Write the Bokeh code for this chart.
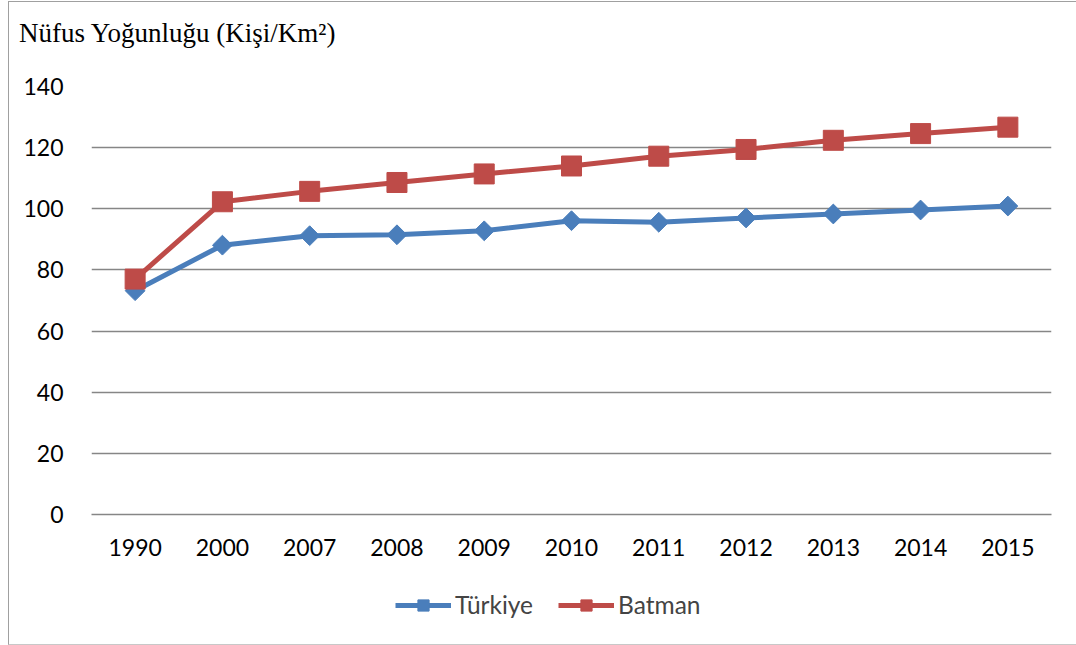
import numpy as np
from bokeh.plotting import figure
from bokeh.layouts import column
from bokeh.models import FactorRange, Range1d, FixedTicker, Legend, LegendItem, Div
from bokeh.embed import file_html
from bokeh.resources import INLINE

years = ["1990", "2000", "2007", "2008", "2009", "2010", "2011", "2012", "2013", "2014", "2015"]
turkiye = [73.2, 88.1, 91.2, 91.5, 92.8, 96.1, 95.6, 97.0, 98.3, 99.6, 100.9]
batman = [77.0, 102.3, 105.7, 108.6, 111.4, 114.0, 117.2, 119.4, 122.4, 124.6, 126.7]
y_ticks = [0, 20, 40, 60, 80, 100, 120, 140]
title_text = "Nüfus Yoğunluğu (Kişi/Km²)"
series_names = ["Türkiye", "Batman"]

BLUE = "#4A7EBB"
RED = "#BE4B48"
GRID = "#868686"
FONT = "Lato"
W = 1067

# ---- title ----
title_div = Div(
    text=('<div style="position:absolute; left:10px; top:18px; white-space:nowrap; '
          'font-family:\'Liberation Serif\'; font-size:27px; line-height:1; color:#000000;">'
          + title_text + '</div>'),
    width=W, height=64, margin=0, styles={"background-color": "white"})

# ---- main chart ----
p = figure(x_range=FactorRange(*years, range_padding=0), y_range=Range1d(0, 140),
           width=W, height=498,
           min_border_left=82, min_border_right=25, min_border_top=20, min_border_bottom=50,
           output_backend="svg", toolbar_location=None)
p.outline_line_color = None
p.background_fill_color = "white"
p.border_fill_color = "white"

p.xgrid.grid_line_color = None
p.ygrid.grid_line_color = GRID
p.ygrid.grid_line_width = 1.5
p.yaxis.ticker = FixedTicker(ticks=y_ticks)

for ax in (p.xaxis[0], p.yaxis[0]):
    ax.axis_line_color = None
    ax.major_tick_line_color = None
    ax.minor_tick_line_color = None
    ax.major_label_text_font = FONT
    ax.major_label_text_font_size = "23px"
    ax.major_label_text_color = "#000000"
p.xaxis.axis_line_color = GRID
p.xaxis.axis_line_width = 1.5
p.yaxis.major_label_standoff = 22
p.xaxis.major_label_standoff = 18

p.line(years, turkiye, line_color=BLUE, line_width=5)
p.scatter(years, turkiye, marker="square", angle=np.pi / 4, size=14,
          fill_color=BLUE, line_color=BLUE)
p.line(years, batman, line_color=RED, line_width=5)
p.scatter(years, batman, marker="square", size=20, fill_color=RED, line_color=RED)

# ---- legend strip ----
lg = figure(width=W, height=80, x_range=FactorRange(*years), y_range=Range1d(0, 140),
            min_border=0, output_backend="svg", toolbar_location=None)
lg.axis.visible = False
lg.grid.visible = False
lg.outline_line_color = None
lg.border_fill_color = "white"
a1 = lg.line(years, turkiye, line_color=BLUE, line_width=5, visible=False)
b1 = lg.scatter(years, turkiye, marker="square", angle=np.pi / 4, size=14,
                fill_color=BLUE, line_color=BLUE, visible=False)
a2 = lg.line(years, batman, line_color=RED, line_width=5, visible=False)
b2 = lg.scatter(years, batman, marker="square", size=20, fill_color=RED,
                line_color=RED, visible=False)

legend = Legend(items=[LegendItem(label=series_names[0], renderers=[a1, b1]),
                       LegendItem(label=series_names[1], renderers=[a2, b2])],
                orientation="horizontal", location=(304, 25),
                label_text_font=FONT, label_text_font_size="24.5px",
                glyph_width=56, glyph_height=28, spacing=25,
                border_line_color=None, background_fill_alpha=0,
                inactive_fill_alpha=0,
                margin=0, padding=0, label_standoff=4)
lg.add_layout(legend, "center")

layout = column(title_div, p, lg, spacing=0)
layout.styles = {"border-left": "1px solid #a0a0a0", "border-top": "1px solid #a0a0a0",
                 "border-bottom": "1px solid #c8c8c8", "margin-left": "8px", "margin-top": "1px"}

open("out.html", "w").write(file_html(layout, INLINE))
